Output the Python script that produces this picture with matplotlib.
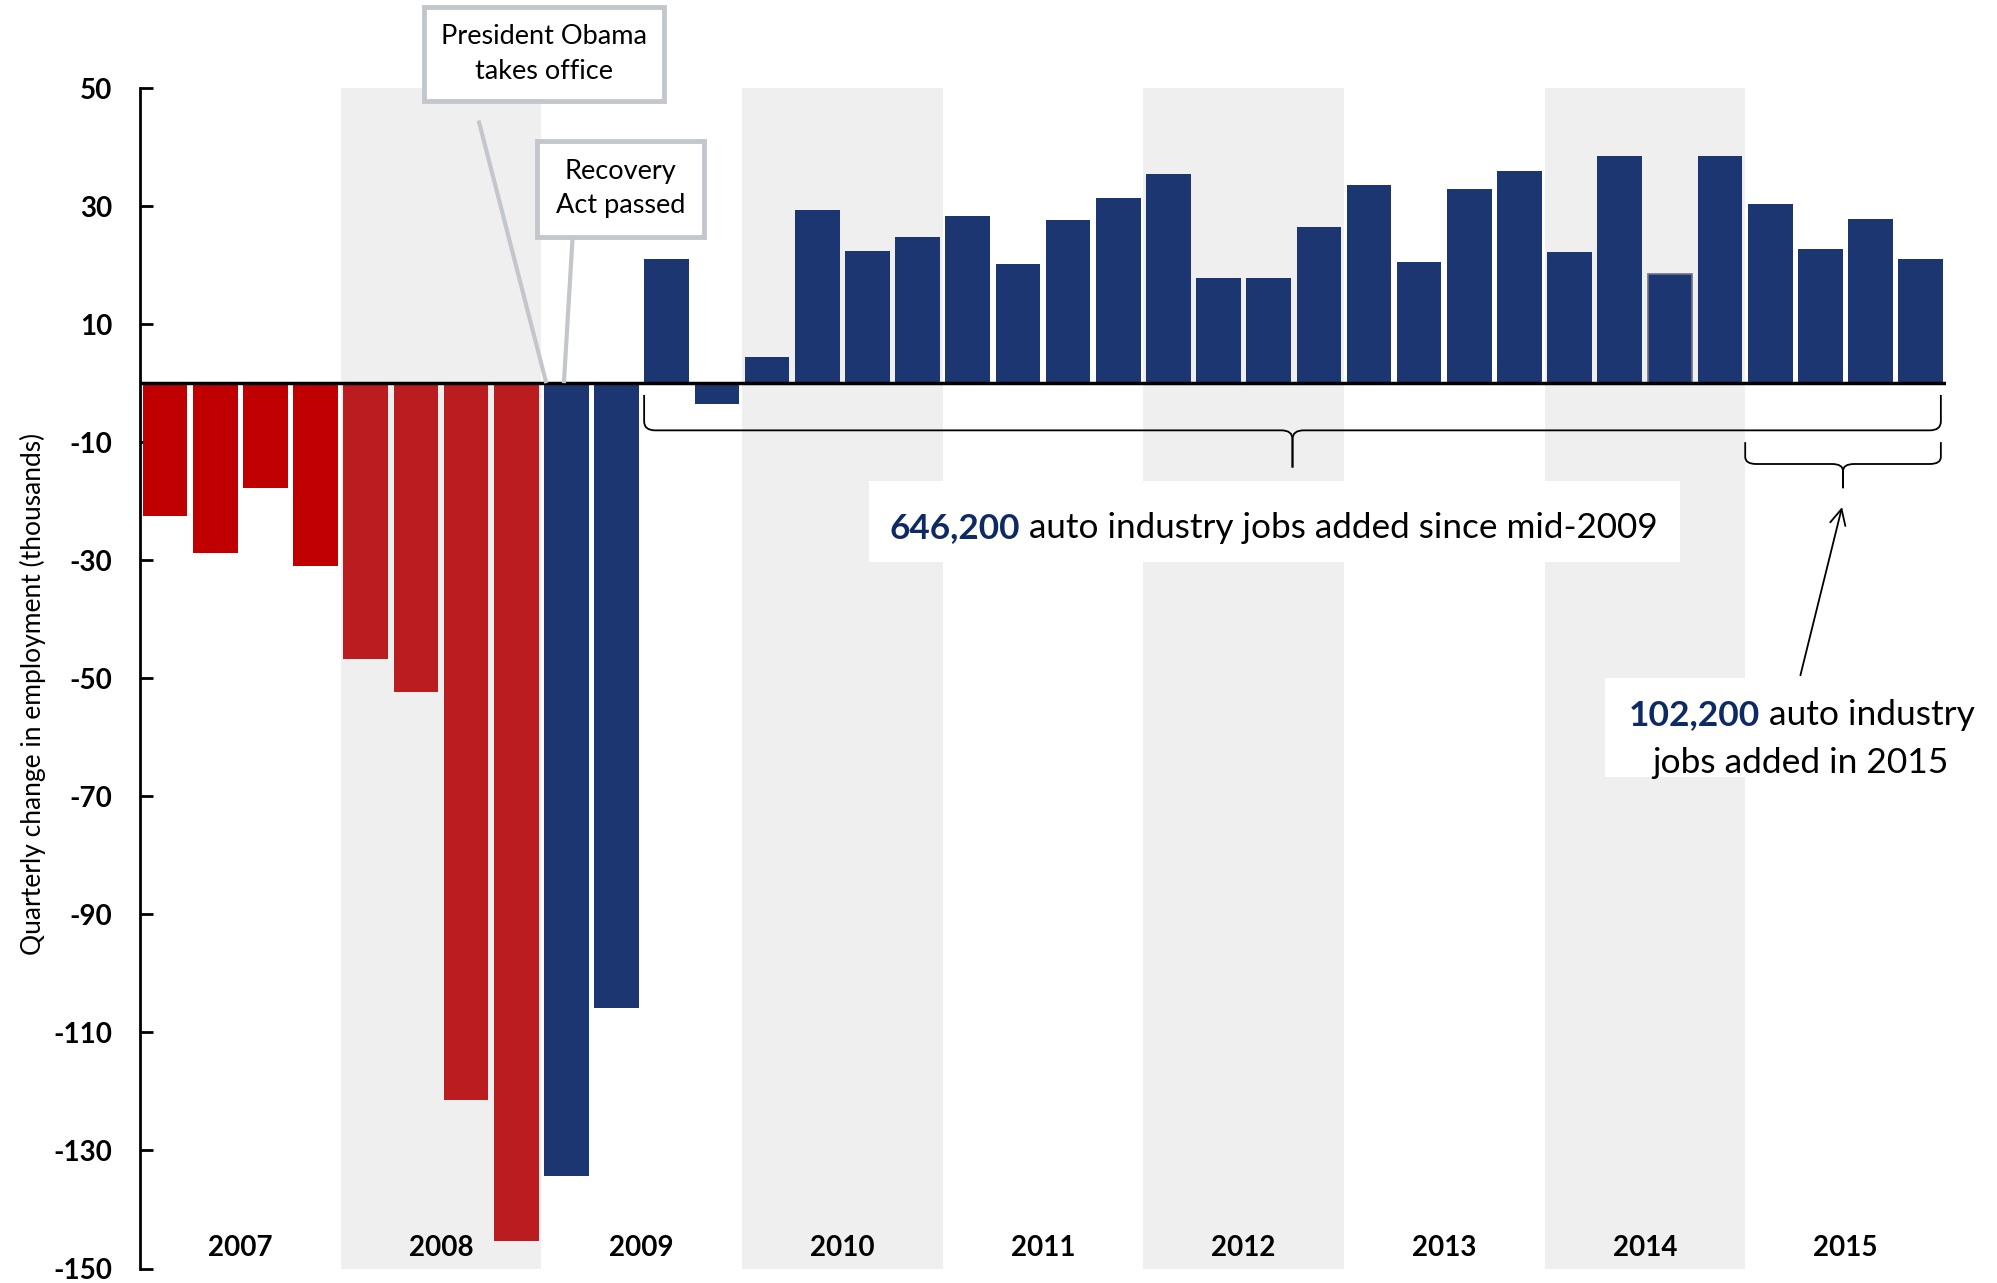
import numpy as np
import matplotlib
matplotlib.use('Agg')
import matplotlib.pyplot as plt
from matplotlib.path import Path
import matplotlib.patches as patches

plt.rcParams['font.family'] = ['Lato', 'DejaVu Sans']

# data: quarterly change in auto industry employment (thousands)
years = ['2007', '2008', '2009', '2010', '2011', '2012', '2013', '2014', '2015']
quarterly_change = [
    -22.5, -28.8, -17.8, -30.9,      # 2007
    -46.7, -52.3, -121.5, -145.3,    # 2008
    -134.3, -105.8, 21.1, -3.5,      # 2009
    4.5, 29.3, 22.4, 24.7,           # 2010
    28.4, 20.2, 27.6, 31.4,          # 2011
    35.5, 17.8, 17.8, 26.5,          # 2012
    33.6, 20.6, 32.9, 36.0,          # 2013
    22.2, 38.4, 18.5, 38.4,          # 2014
    30.4, 22.8, 27.8, 21.1,          # 2015
]
year_colors = ['#C00000', '#BB1C1F'] + ['#1B3670'] * 7
y_ticks = [50, 30, 10, -10, -30, -50, -70, -90, -110, -130, -150]

NAVY_TEXT = '#0E2A66'
BOX_GRAY = '#C3C7CC'

fig = plt.figure(figsize=(19.97, 12.83), dpi=100)
ax = fig.add_axes([0.0701, 0.0113, 0.9043, 0.9201])

n = len(quarterly_change)
x = np.arange(n)
colors = [year_colors[i // 4] for i in range(n)]

# shaded bands for alternating years
for i in range(1, len(years), 2):
    ax.axvspan(i * 4 - 0.5, i * 4 + 3.5, color='#EFEFEF', zorder=0, lw=0)

bars = ax.bar(x, quarterly_change, width=0.89, color=colors, zorder=2)
bars[30].set_edgecolor('#6B7386')
bars[30].set_linewidth(1.2)

ax.axhline(0, color='black', lw=2.5, zorder=3)

ax.set_xlim(-0.5, n - 0.5)
ax.set_ylim(-150, 50)
ax.set_yticks(y_ticks)
ax.set_yticklabels([str(t) for t in y_ticks], fontsize=20, fontweight='bold')
ax.tick_params(axis='y', direction='in', length=9, width=2, pad=20)
ax.tick_params(axis='x', bottom=False, labelbottom=False)
for s in ['top', 'right', 'bottom']:
    ax.spines[s].set_visible(False)
ax.spines['left'].set_linewidth(2)
ax.set_ylabel('Quarterly change in employment (thousands)', fontsize=19)
ax.yaxis.set_label_coords(-0.052, 0.487)

# year labels
for i, yr in enumerate(years):
    ax.text(i * 4 + 1.5, -146.5, yr, ha='center', va='center', fontsize=20,
            fontweight='bold', zorder=4)

# callout boxes
box_style = dict(boxstyle='square,pad=0.62', fc='white', ec=BOX_GRAY, lw=3.5)
ax.plot([6.25, 7.6], [44.5, 0], color=BOX_GRAY, lw=3, zorder=3, clip_on=False,
        solid_capstyle='butt')
ax.plot([8.13, 7.95], [25.6, 0], color=BOX_GRAY, lw=3, zorder=3, clip_on=False,
        solid_capstyle='butt')
ax.text(7.55, 55.8, 'President Obama\ntakes office', ha='center', va='center',
        fontsize=19.5, linespacing=1.5, bbox=box_style, zorder=5, clip_on=False)
ax.text(9.08, 32.9, 'Recovery\nAct passed', ha='center', va='center',
        fontsize=19.5, linespacing=1.45,
        bbox=dict(box_style, boxstyle='square,pad=0.68'), zorder=5)


def brace(x0, x1, ytop, ymid, ytip, dx=0.22, dy=1.5):
    xm = (x0 + x1) / 2
    for a, sgn in ((x0, 1), (x1, -1)):
        verts = [(a, ytop), (a, ymid + dy), (a, ymid), (a + sgn * dx, ymid),
                 (xm - sgn * dx, ymid), (xm, ymid), (xm, ymid - dy), (xm, ytip)]
        codes = [Path.MOVETO, Path.LINETO, Path.CURVE3, Path.CURVE3,
                 Path.LINETO, Path.CURVE3, Path.CURVE3, Path.LINETO]
        ax.add_patch(patches.PathPatch(Path(verts, codes), fc='none', ec='black',
                                       lw=1.3, zorder=3, clip_on=False))


brace(9.55, 35.4, -2.0, -8.0, -14.3)
brace(31.5, 35.4, -10.0, -13.7, -17.8, dy=1.2)

# 646,200 label
ax.add_patch(patches.Rectangle((14.04, -30.3), 16.16, 13.8, fc='white', ec='none',
                               zorder=1))
t1 = ax.text(14.45, -26.2, '646,200', fontsize=25.3, fontweight='bold',
             color=NAVY_TEXT, va='baseline', zorder=4)
ax.annotate(' auto industry jobs added since mid-2009', xy=(1, 0), xycoords=t1,
            va='bottom', ha='left', fontsize=25.3, zorder=4)

# 102,200 label
ax.add_patch(patches.Rectangle((28.7, -66.7), 7.27, 16.8, fc='white', ec='none',
                               zorder=1, clip_on=False))
t2 = ax.text(29.17, -58.0, '102,200', fontsize=25.5, fontweight='bold',
             color=NAVY_TEXT, va='baseline', zorder=4)
ax.annotate(' auto industry', xy=(1, 0), xycoords=t2, va='bottom', ha='left',
            fontsize=25.5, zorder=4, annotation_clip=False)
ax.text(32.6, -66.0, 'jobs added in 2015', ha='center', va='baseline',
        fontsize=25.5, zorder=4)
ax.annotate('', xy=(33.43, -21.0), xytext=(32.6, -49.5),
            arrowprops=dict(arrowstyle='->', lw=1.3, color='black',
                            mutation_scale=28, shrinkA=0, shrinkB=0), zorder=4)

fig.savefig('out.png', dpi=100)
